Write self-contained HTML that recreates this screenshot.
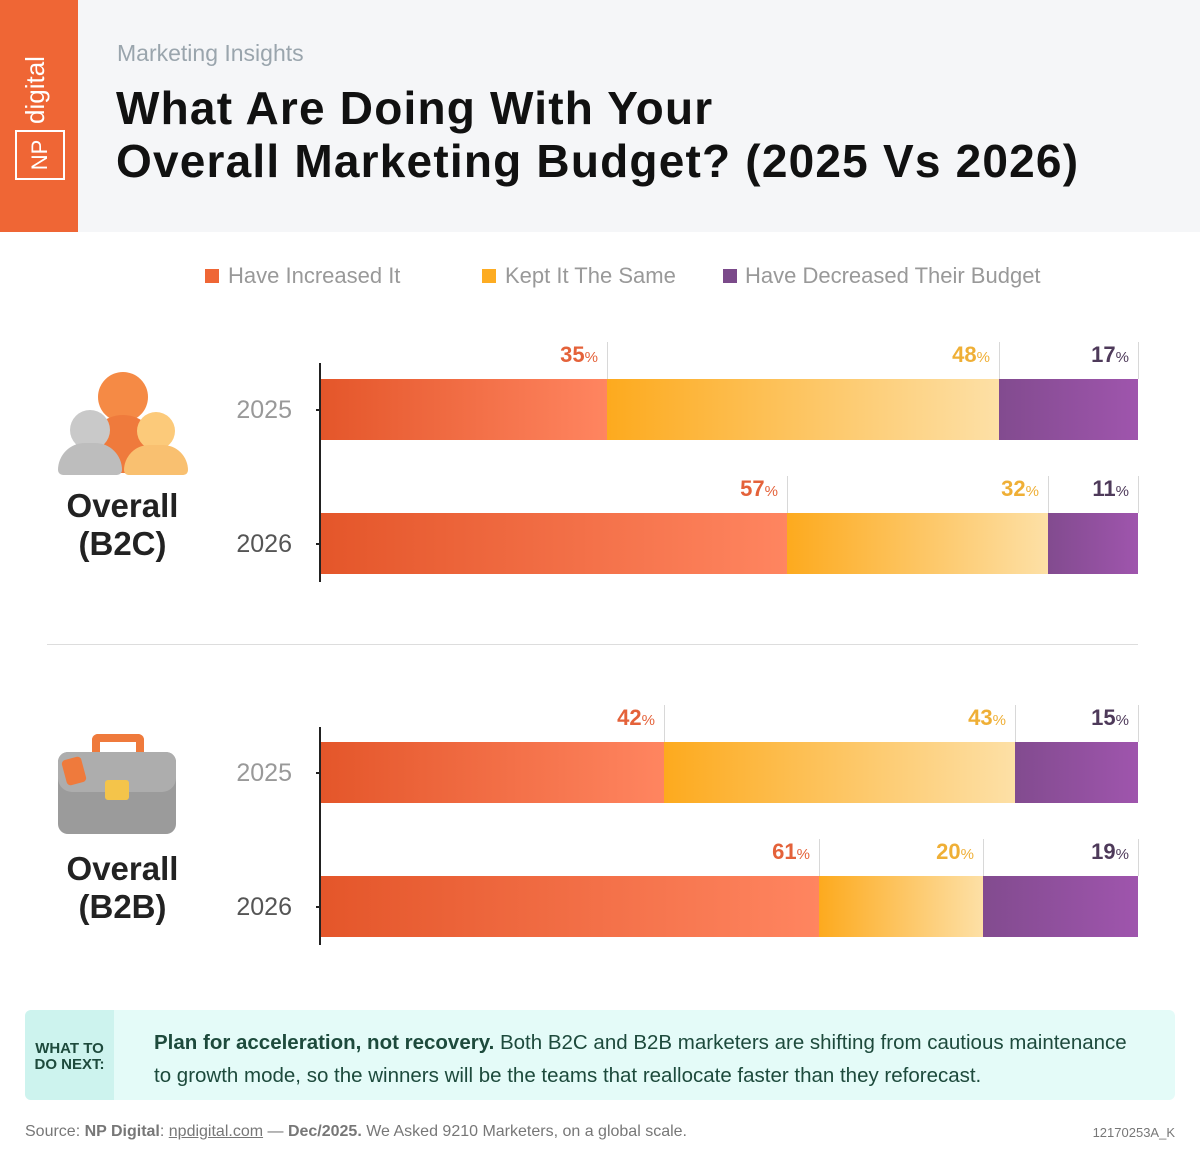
<!DOCTYPE html>
<html><head><meta charset="utf-8"><style>
*{margin:0;padding:0;box-sizing:border-box}
body{width:1200px;height:1167px;position:relative;background:#fff;font-family:"Liberation Sans",sans-serif;overflow:hidden}
.a{position:absolute}
.o{background:linear-gradient(90deg,#e4562a,#ff8560)}
.y{background:linear-gradient(90deg,#fdaa1e,#fde0a6)}
.p{background:linear-gradient(90deg,#824b8f,#9f55ad)}
.lbl{position:absolute;font-size:22px;font-weight:bold;text-align:right;width:80px}
.lbl small{font-size:15px;font-weight:normal}
.vl{position:absolute;width:1px;background:#d8d8d8;height:37px}
.yr{position:absolute;font-size:25px;color:#999;width:80px;text-align:right}
.tick{position:absolute;width:8px;height:2px;background:#222;left:316px}
</style></head><body>
<div class="a" style="left:0;top:0;width:1200px;height:232px;background:#f5f6f8"></div>
<div class="a" style="left:0;top:0;width:78px;height:232px;background:#ef6635"></div>
<div class="a" style="left:15px;top:130px;width:50px;height:50px;border:2px solid #fff"></div>
<div class="a" style="left:15px;top:130px;width:50px;height:50px;color:#fff;font-size:22px;display:flex;align-items:center;justify-content:center;transform:rotate(-90deg)">NP</div>
<div class="a" style="left:-20px;top:70px;width:120px;height:40px;color:#fff;font-size:26px;text-align:center;transform:rotate(-90deg)">digital</div>
<div class="a" style="left:117px;top:40px;font-size:23px;color:#9aa5ad">Marketing Insights</div>
<div class="a" style="left:116px;top:82px;font-size:46px;font-weight:bold;color:#111;line-height:53px;letter-spacing:1.2px">What Are Doing With Your<br>Overall Marketing Budget? (2025 Vs 2026)</div>

<div class="a" style="left:205px;top:269px;width:14px;height:14px;background:#ef6635"></div>
<div class="a" style="left:228px;top:263px;font-size:22px;color:#999">Have Increased It</div>
<div class="a" style="left:482px;top:269px;width:14px;height:14px;background:#fdac22"></div>
<div class="a" style="left:505px;top:263px;font-size:22px;color:#999">Kept It The Same</div>
<div class="a" style="left:723px;top:269px;width:14px;height:14px;background:#7b4a8a"></div>
<div class="a" style="left:745px;top:263px;font-size:22px;color:#999">Have Decreased Their Budget</div>

<!-- B2C icon -->
<div class="a" style="left:98px;top:372px;width:50px;height:50px;border-radius:50%;background:#f58a45"></div>
<div class="a" style="left:88px;top:415px;width:70px;height:58px;border-radius:35px 35px 8px 8px;background:#ef7a3c"></div>
<div class="a" style="left:70px;top:410px;width:40px;height:40px;border-radius:50%;background:#c9c9c9"></div>
<div class="a" style="left:58px;top:443px;width:64px;height:32px;border-radius:32px 32px 6px 6px;background:#bdbdbd"></div>
<div class="a" style="left:137px;top:412px;width:38px;height:38px;border-radius:50%;background:#fcca7a"></div>
<div class="a" style="left:124px;top:445px;width:64px;height:30px;border-radius:32px 32px 6px 6px;background:#f9c070"></div>
<div class="a" style="left:40px;top:487px;width:165px;text-align:center;font-size:33px;font-weight:bold;color:#222;line-height:38px">Overall<br>(B2C)</div>

<!-- B2B icon -->
<div class="a" style="left:92px;top:734px;width:52px;height:20px;border:8px solid #ef7a3c;border-bottom:none;border-radius:6px 6px 0 0"></div>
<div class="a" style="left:58px;top:752px;width:118px;height:82px;border-radius:10px;background:#9b9b9b"></div>
<div class="a" style="left:58px;top:752px;width:118px;height:40px;border-radius:10px 10px 14px 14px;background:#adadad"></div>
<div class="a" style="left:105px;top:780px;width:24px;height:20px;border-radius:3px;background:#f4c44a"></div>
<div class="a" style="left:64px;top:758px;width:20px;height:26px;border-radius:4px;background:#ef7a3c;transform:rotate(-15deg)"></div>
<div class="a" style="left:40px;top:850px;width:165px;text-align:center;font-size:33px;font-weight:bold;color:#222;line-height:38px">Overall<br>(B2B)</div>

<!-- axes -->
<div class="a" style="left:319px;top:363px;width:2px;height:219px;background:#222"></div>
<div class="a" style="left:319px;top:727px;width:2px;height:218px;background:#222"></div>
<div class="tick" style="top:409px"></div><div class="tick" style="top:543px"></div>
<div class="tick" style="top:772px"></div><div class="tick" style="top:906px"></div>
<div class="yr" style="left:212px;top:396px">2025</div>
<div class="yr" style="left:212px;top:530px;color:#555">2026</div>
<div class="yr" style="left:212px;top:759px">2025</div>
<div class="yr" style="left:212px;top:893px;color:#555">2026</div>
<div class="a" style="left:47px;top:644px;width:1091px;height:1px;background:#ddd"></div>

<!-- B2C 2025 -->
<div class="a o" style="left:321px;top:379px;width:286px;height:61px"></div>
<div class="a y" style="left:607px;top:379px;width:392px;height:61px"></div>
<div class="a p" style="left:999px;top:379px;width:139px;height:61px"></div>
<div class="vl" style="left:607px;top:342px"></div><div class="vl" style="left:999px;top:342px"></div><div class="vl" style="left:1138px;top:342px"></div>
<div class="lbl" style="left:518px;top:342px;color:#e4623a">35<small>%</small></div>
<div class="lbl" style="left:910px;top:342px;color:#efaf36">48<small>%</small></div>
<div class="lbl" style="left:1049px;top:342px;color:#4e3a5a">17<small>%</small></div>
<!-- B2C 2026 -->
<div class="a o" style="left:321px;top:513px;width:466px;height:61px"></div>
<div class="a y" style="left:787px;top:513px;width:261px;height:61px"></div>
<div class="a p" style="left:1048px;top:513px;width:90px;height:61px"></div>
<div class="vl" style="left:787px;top:476px"></div><div class="vl" style="left:1048px;top:476px"></div><div class="vl" style="left:1138px;top:476px"></div>
<div class="lbl" style="left:698px;top:476px;color:#e4623a">57<small>%</small></div>
<div class="lbl" style="left:959px;top:476px;color:#efaf36">32<small>%</small></div>
<div class="lbl" style="left:1049px;top:476px;color:#4e3a5a">11<small>%</small></div>
<!-- B2B 2025 -->
<div class="a o" style="left:321px;top:742px;width:343px;height:61px"></div>
<div class="a y" style="left:664px;top:742px;width:351px;height:61px"></div>
<div class="a p" style="left:1015px;top:742px;width:123px;height:61px"></div>
<div class="vl" style="left:664px;top:705px"></div><div class="vl" style="left:1015px;top:705px"></div><div class="vl" style="left:1138px;top:705px"></div>
<div class="lbl" style="left:575px;top:705px;color:#e4623a">42<small>%</small></div>
<div class="lbl" style="left:926px;top:705px;color:#efaf36">43<small>%</small></div>
<div class="lbl" style="left:1049px;top:705px;color:#4e3a5a">15<small>%</small></div>
<!-- B2B 2026 -->
<div class="a o" style="left:321px;top:876px;width:498px;height:61px"></div>
<div class="a y" style="left:819px;top:876px;width:164px;height:61px"></div>
<div class="a p" style="left:983px;top:876px;width:155px;height:61px"></div>
<div class="vl" style="left:819px;top:839px"></div><div class="vl" style="left:983px;top:839px"></div><div class="vl" style="left:1138px;top:839px"></div>
<div class="lbl" style="left:730px;top:839px;color:#e4623a">61<small>%</small></div>
<div class="lbl" style="left:894px;top:839px;color:#efaf36">20<small>%</small></div>
<div class="lbl" style="left:1049px;top:839px;color:#4e3a5a">19<small>%</small></div>

<!-- callout -->
<div class="a" style="left:25px;top:1010px;width:1150px;height:90px;border-radius:6px;background:#e4fbf8"></div>
<div class="a" style="left:25px;top:1010px;width:89px;height:90px;border-radius:6px 0 0 6px;background:#cdf3ee"></div>
<div class="a" style="left:25px;top:1041px;width:89px;text-align:center;font-size:15px;font-weight:bold;color:#1d4a3c;line-height:16px">WHAT TO<br>DO NEXT:</div>
<div class="a" style="left:154px;top:1026px;width:1010px;font-size:20.5px;color:#1d4a3c;line-height:33px;white-space:nowrap"><b>Plan for acceleration, not recovery.</b> Both B2C and B2B marketers are shifting from cautious maintenance<br>to growth mode, so the winners will be the teams that reallocate faster than they reforecast.</div>
<div class="a" style="left:25px;top:1123px;font-size:16px;color:#777">Source: <b>NP Digital</b>: <u>npdigital.com</u> — <b>Dec/2025.</b> We Asked 9210 Marketers, on a global scale.</div>
<div class="a" style="left:1060px;top:1125px;width:115px;text-align:right;font-size:13px;color:#777">12170253A_K</div>
</body></html>
